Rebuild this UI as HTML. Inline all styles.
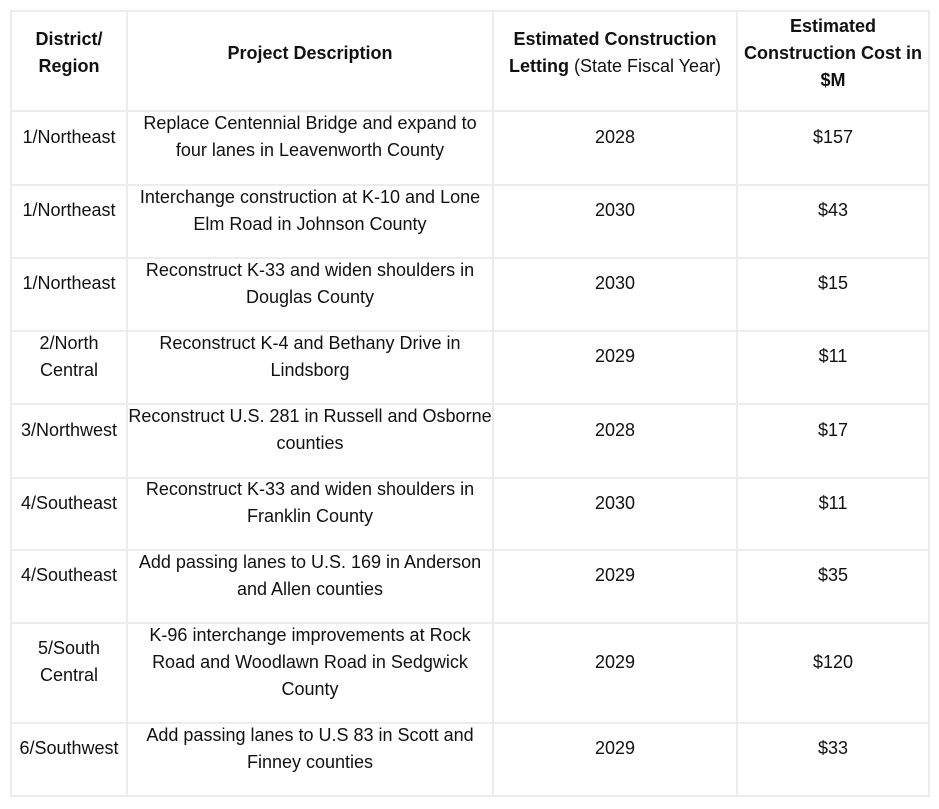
<!DOCTYPE html>
<html><head><meta charset="utf-8"><style>
body{margin:0;background:#fff;width:939px;height:809px;position:relative;font-family:"Liberation Sans",Arial,sans-serif;color:#111;font-size:18px;}
.h{position:absolute;background:#ececec;height:2px}
.v{position:absolute;background:#ececec;width:2px}
.c{position:absolute;display:flex;align-items:center;justify-content:center;text-align:center;line-height:27px}
b{font-weight:bold}
</style></head><body>
<div id="g"></div>
<script>
var xs=[10,126,492,736,928],ys=[10,110,184,257,330,403,477,549,622,722,795];
var rows=[
["<b>District/<br>Region</b>","<b>Project Description</b>","<b>Estimated Construction<br>Letting</b> (State Fiscal Year)","<b>Estimated<br>Construction Cost in<br>$M</b>"],
["1/Northeast","Replace Centennial Bridge and expand to<br>four lanes in Leavenworth County","2028","$157"],
["1/Northeast","Interchange construction at K-10 and Lone<br>Elm Road in Johnson County","2030","$43"],
["1/Northeast","Reconstruct K-33 and widen shoulders in<br>Douglas County","2030","$15"],
["2/North<br>Central","Reconstruct K-4 and Bethany Drive in<br>Lindsborg","2029","$11"],
["3/Northwest","Reconstruct U.S. 281 in Russell and Osborne<br>counties","2028","$17"],
["4/Southeast","Reconstruct K-33 and widen shoulders in<br>Franklin County","2030","$11"],
["4/Southeast","Add passing lanes to U.S. 169 in Anderson<br>and Allen counties","2029","$35"],
["5/South<br>Central","K-96 interchange improvements at Rock<br>Road and Woodlawn Road in Sedgwick<br>County","2029","$120"],
["6/Southwest","Add passing lanes to U.S 83 in Scott and<br>Finney counties","2029","$33"]];
var h="";
ys.forEach(function(y){h+='<div class="h" style="left:10px;width:920px;top:'+y+'px"></div>';});
xs.forEach(function(x){h+='<div class="v" style="top:10px;height:787px;left:'+x+'px"></div>';});
rows.forEach(function(r,i){r.forEach(function(t,j){
h+='<div class="c" style="left:'+(xs[j]+2)+'px;width:'+(xs[j+1]-xs[j]-2)+'px;top:'+(ys[i]+2)+'px;height:'+(ys[i+1]-ys[i]-2-(i==0?16:22))+'px"><span>'+t+'</span></div>';});});
document.getElementById("g").innerHTML=h;
</script>
</body></html>
